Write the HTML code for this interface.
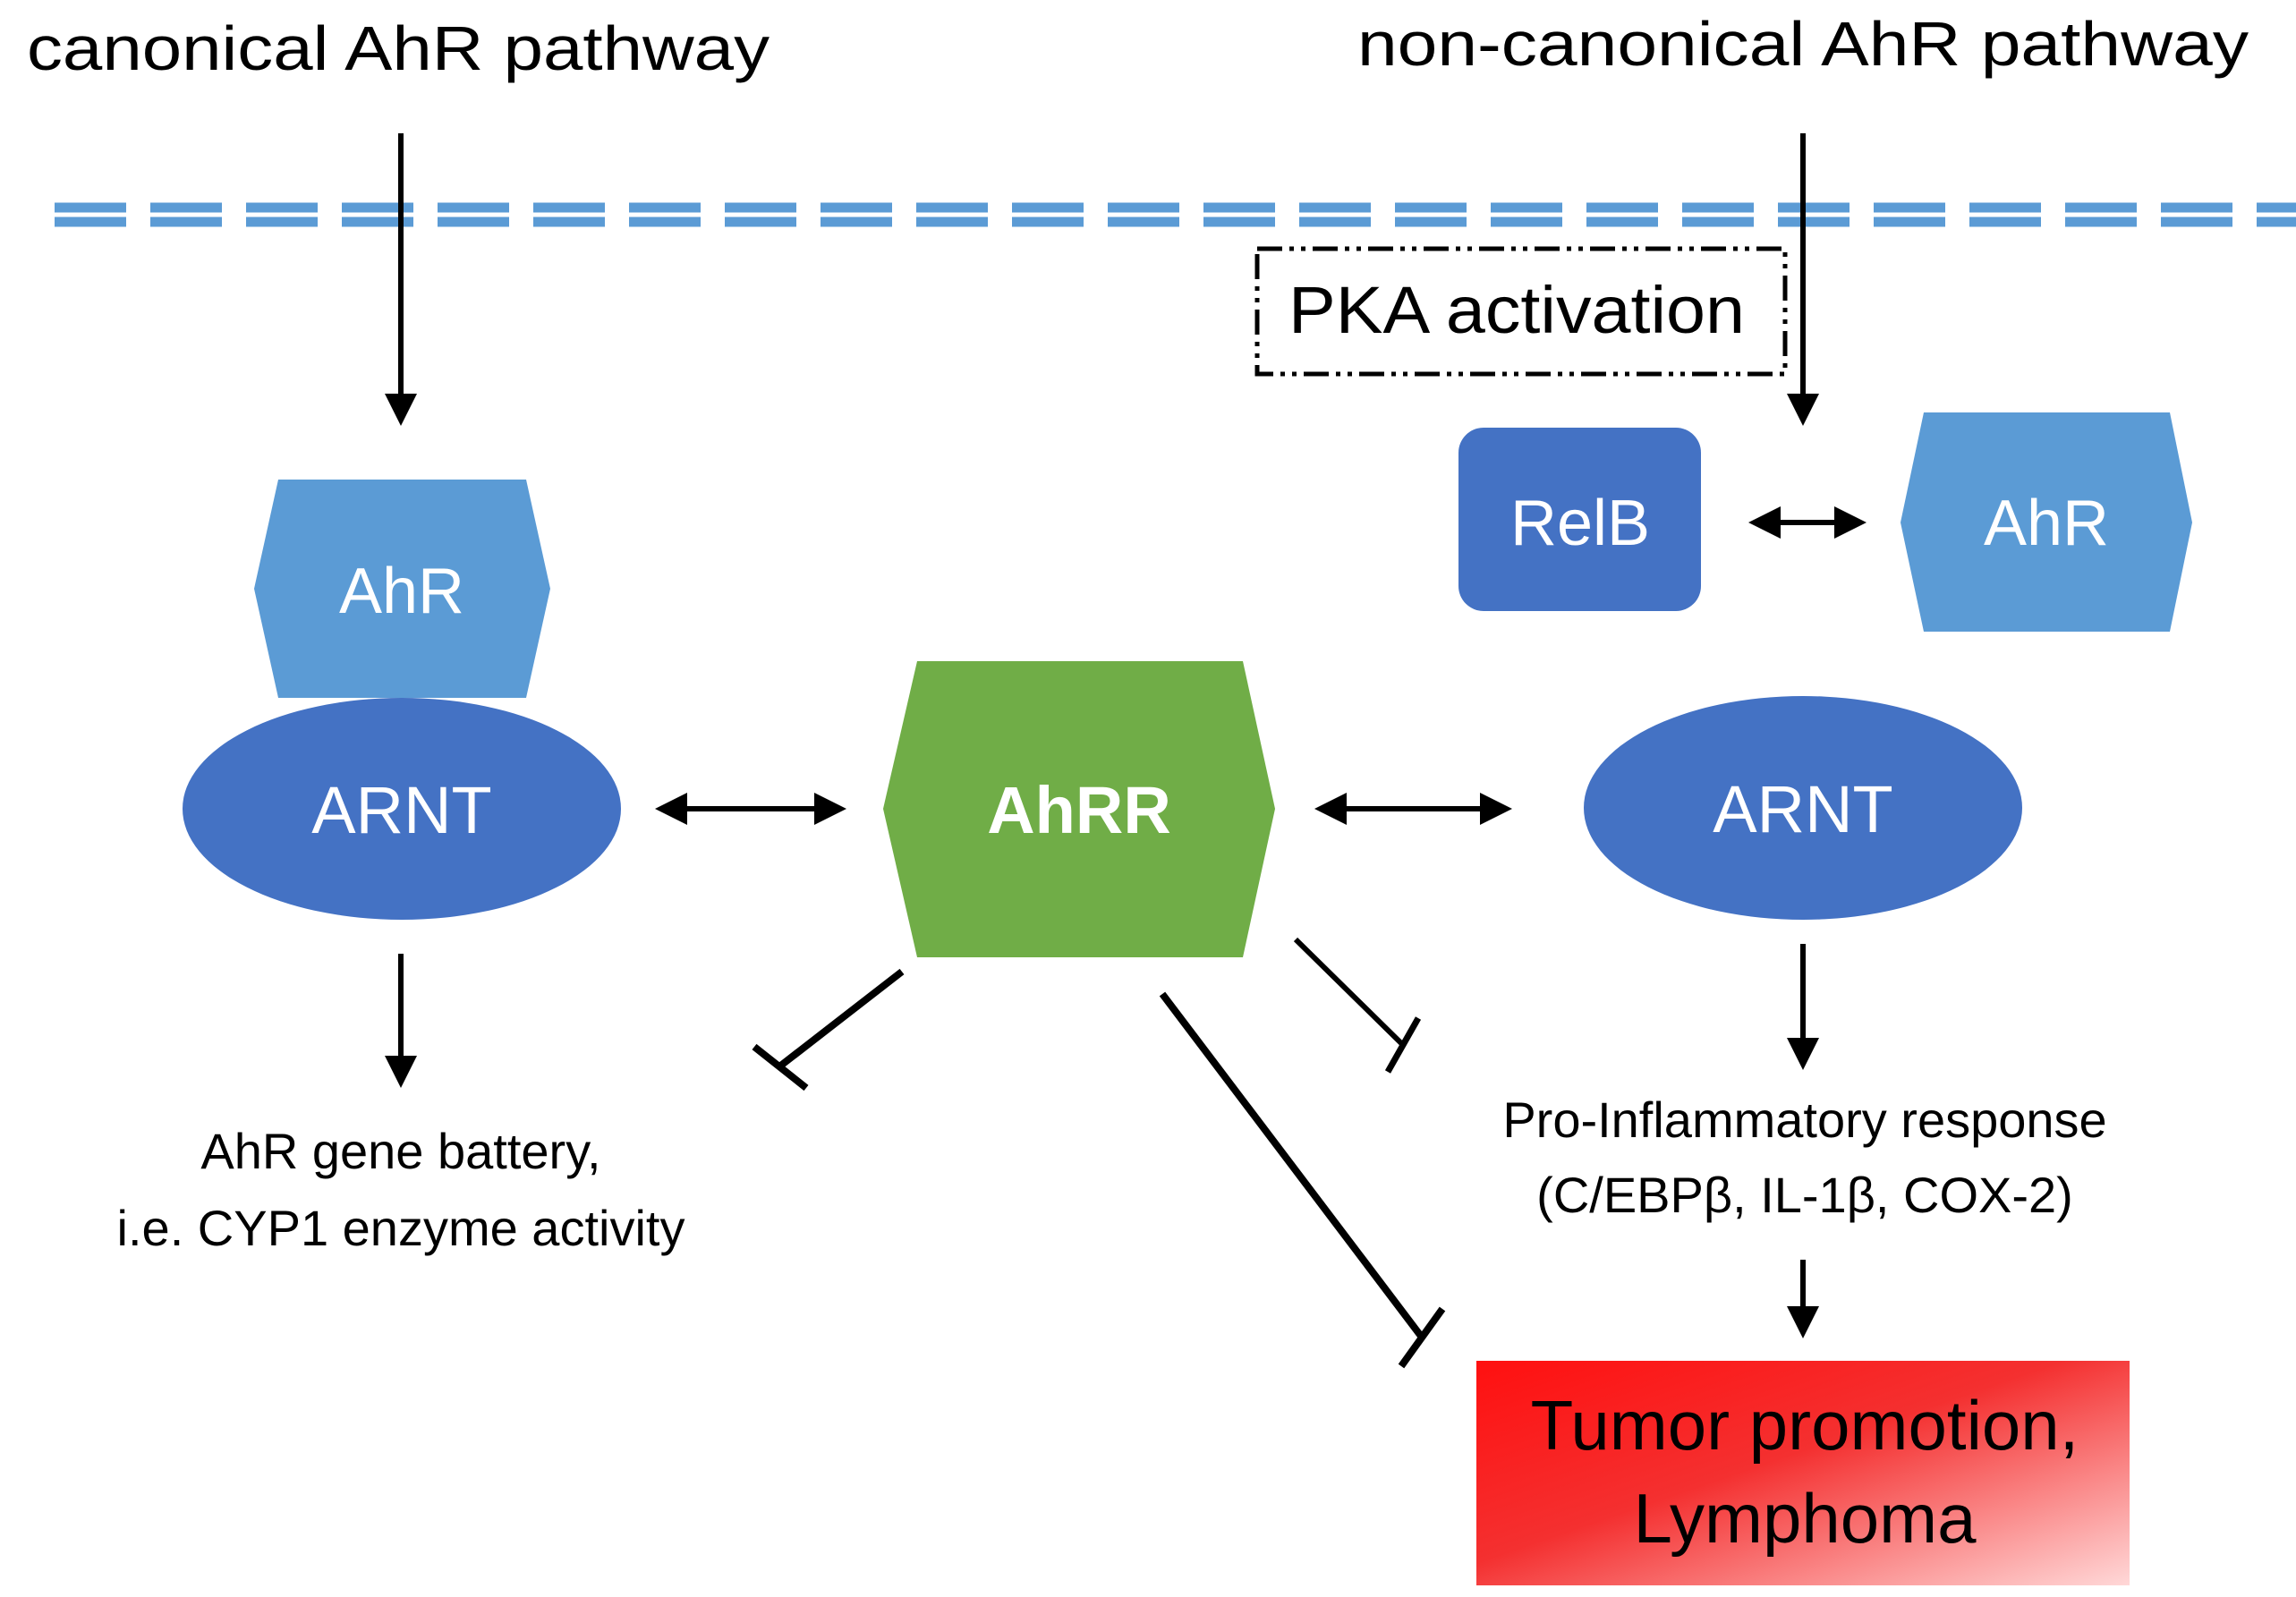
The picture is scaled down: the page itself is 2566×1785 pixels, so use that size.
<!DOCTYPE html>
<html><head><meta charset="utf-8"><style>
html,body{margin:0;padding:0;background:#fff;}
svg{display:block;}
text{font-family:"Liberation Sans",sans-serif;}
</style></head><body>
<svg width="2566" height="1785" viewBox="0 0 2566 1785" xmlns="http://www.w3.org/2000/svg">
<defs>
<marker id="ah" markerWidth="6" markerHeight="6" refX="5" refY="3" orient="auto" markerUnits="strokeWidth">
<path d="M0,0 L6,3 L0,6 Z" fill="#000"/></marker>
<marker id="as" markerWidth="6" markerHeight="6" refX="1" refY="3" orient="auto" markerUnits="strokeWidth">
<path d="M6,0 L0,3 L6,6 Z" fill="#000"/></marker>
<linearGradient id="tg" x1="0" y1="0" x2="1" y2="1">
<stop offset="0" stop-color="#ff1010"/><stop offset="0.45" stop-color="#f43030"/><stop offset="1" stop-color="#ffd8d8"/></linearGradient>
</defs>

<text x="30" y="78" font-size="70" textLength="830" lengthAdjust="spacingAndGlyphs">canonical AhR pathway</text>
<text x="1517" y="73" font-size="70" textLength="996" lengthAdjust="spacingAndGlyphs">non-canonical AhR pathway</text>

<line x1="61" y1="232" x2="2566" y2="232" stroke="#5B9BD5" stroke-width="11" stroke-dasharray="80 27"/>
<line x1="61" y1="248" x2="2566" y2="248" stroke="#5B9BD5" stroke-width="11" stroke-dasharray="80 27"/>

<line x1="448" y1="149" x2="448" y2="470" stroke="#000" stroke-width="6" marker-end="url(#ah)"/>
<line x1="2015" y1="149" x2="2015" y2="470" stroke="#000" stroke-width="6" marker-end="url(#ah)"/>

<rect x="1405" y="278" width="590" height="140" fill="none" stroke="#000" stroke-width="5" stroke-dasharray="28 8 5 8 5 8"/>
<text x="1440" y="372" font-size="74" textLength="510" lengthAdjust="spacingAndGlyphs">PKA activation</text>

<rect x="1630" y="478" width="271" height="205" rx="28" fill="#4472C4"/>
<text x="1766" y="609" font-size="72" fill="#fff" text-anchor="middle">RelB</text>

<polygon points="2150,461 2425,461 2450,584 2425,706 2150,706 2124,584" fill="#5B9BD5"/>
<text x="2287" y="609" font-size="72" fill="#fff" text-anchor="middle">AhR</text>

<line x1="1960" y1="584" x2="2080" y2="584" stroke="#000" stroke-width="6" marker-end="url(#ah)" marker-start="url(#as)"/>

<polygon points="311,536 588,536 615,658 588,780 311,780 284,658" fill="#5B9BD5"/>
<text x="449" y="685" font-size="72" fill="#fff" text-anchor="middle">AhR</text>

<ellipse cx="449" cy="904" rx="245" ry="124" fill="#4472C4"/>
<text x="449" y="931" font-size="74" fill="#fff" text-anchor="middle">ARNT</text>

<line x1="738" y1="904" x2="940" y2="904" stroke="#000" stroke-width="6" marker-end="url(#ah)" marker-start="url(#as)"/>

<polygon points="1025,739 1389,739 1425,904 1389,1070 1025,1070 987,904" fill="#70AD47"/>
<text x="1206" y="931" font-size="74" font-weight="bold" fill="#fff" text-anchor="middle">AhRR</text>

<line x1="1475" y1="904" x2="1684" y2="904" stroke="#000" stroke-width="6" marker-end="url(#ah)" marker-start="url(#as)"/>

<ellipse cx="2015" cy="903" rx="245" ry="125" fill="#4472C4"/>
<text x="2015" y="930" font-size="74" fill="#fff" text-anchor="middle">ARNT</text>

<line x1="448" y1="1066" x2="448" y2="1210" stroke="#000" stroke-width="6" marker-end="url(#ah)"/>
<text x="448" y="1306" font-size="56" text-anchor="middle">AhR gene battery,</text>
<text x="448" y="1392" font-size="56" text-anchor="middle">i.e. CYP1 enzyme activity</text>

<line x1="1008" y1="1086" x2="870" y2="1193" stroke="#000" stroke-width="8"/>
<line x1="843" y1="1170" x2="901" y2="1216" stroke="#000" stroke-width="8"/>
<line x1="1448" y1="1050" x2="1567" y2="1167" stroke="#000" stroke-width="6"/>
<line x1="1551" y1="1198" x2="1585" y2="1138" stroke="#000" stroke-width="7"/>
<line x1="1299" y1="1111" x2="1590" y2="1496" stroke="#000" stroke-width="8"/>
<line x1="1566" y1="1527" x2="1612" y2="1463" stroke="#000" stroke-width="8"/>

<line x1="2015" y1="1055" x2="2015" y2="1190" stroke="#000" stroke-width="6" marker-end="url(#ah)"/>
<text x="2017" y="1271" font-size="56" text-anchor="middle">Pro-Inflammatory response</text>
<text x="2017" y="1355" font-size="56" text-anchor="middle">(C/EBPβ, IL-1β, COX-2)</text>
<line x1="2015" y1="1408" x2="2015" y2="1490" stroke="#000" stroke-width="6" marker-end="url(#ah)"/>

<rect x="1650" y="1521" width="730" height="251" fill="url(#tg)"/>
<text x="2017" y="1620" font-size="78" text-anchor="middle">Tumor promotion,</text>
<text x="2017" y="1724" font-size="78" text-anchor="middle">Lymphoma</text>
</svg>
</body></html>
